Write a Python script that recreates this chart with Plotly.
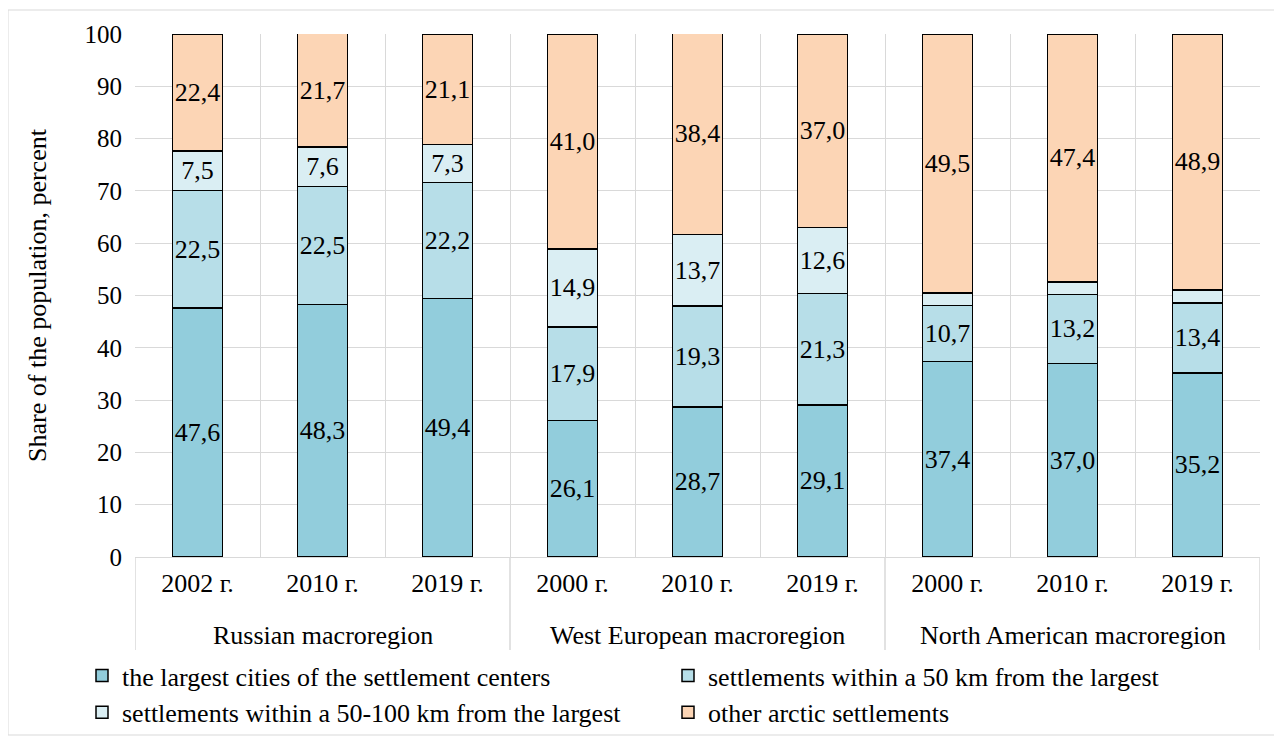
import plotly.graph_objects as go

group_names = ["Russian macroregion", "West European macroregion", "North American macroregion"]
years = ["2002 г.", "2010 г.", "2019 г.", "2000 г.", "2010 г.", "2019 г.", "2000 г.", "2010 г.", "2019 г."]

largest = [47.6, 48.3, 49.4, 26.1, 28.7, 29.1, 37.4, 37.0, 35.2]
within50 = [22.5, 22.5, 22.2, 17.9, 19.3, 21.3, 10.7, 13.2, 13.4]
within50_100 = [7.5, 7.6, 7.3, 14.9, 13.7, 12.6, 2.4, 2.4, 2.5]
other = [22.4, 21.7, 21.1, 41.0, 38.4, 37.0, 49.5, 47.4, 48.9]

series_names = [
    "the largest cities of the settlement centers",
    "settlements within a 50 km from the largest",
    "settlements within a 50-100 km from the largest",
    "other arctic settlements",
]
colors = ["#92CDDC", "#B7DEE8", "#DAEEF3", "#FCD5B5"]

FONT = "Liberation Serif"
GRID = "#D9D9D9"

idx = list(range(len(years)))
boundaries = [i - 0.5 for i in range(len(years) + 1)]

def lab(vals):
    return [("" if v < 5 else f"{v:.1f}".replace(".", ",")) for v in vals]

fig = go.Figure()
for name, vals, col in zip(series_names, [largest, within50, within50_100, other], colors):
    fig.add_trace(go.Bar(
        x=idx, y=vals, name=name, width=0.4,
        marker=dict(color=col, line=dict(color="black", width=1.5)),
        text=lab(vals), textposition="inside", insidetextanchor="middle",
        textangle=0, constraintext="none",
        textfont=dict(family=FONT, size=26, color="black"),
    ))

# Page has an 8px body margin; figure coordinates are offset accordingly.
W, H = 1274, 736
L, R, T, B = 127, 22, 26, 187
PW, PH = W - L - R, H - T - B

fig.update_layout(
    barmode="stack",
    width=W, height=H,
    margin=dict(l=L, r=R, t=T, b=B, autoexpand=False),
    paper_bgcolor="white", plot_bgcolor="white",
    font=dict(family=FONT, size=26, color="black"),
    legend=dict(orientation="h", x=(74 - L) / PW, xanchor="left", y=-(644 - 549) / PH, yanchor="top",
                entrywidth=541, entrywidthmode="pixels", font=dict(size=26, family=FONT),
                traceorder="normal", itemwidth=30, bgcolor="rgba(0,0,0,0)"),
    showlegend=True,
)
fig.update_xaxes(
    range=[-0.5, len(years) - 0.5], tickvals=idx, ticktext=years, showgrid=False,
    showline=True, linecolor=GRID, ticks="", zeroline=False,
    tickfont=dict(family=FONT, size=26), ticklabelstandoff=3,
    minor=dict(tickvals=boundaries, showgrid=True, gridcolor=GRID, ticks=""),
)
fig.update_yaxes(
    range=[0, 100], dtick=10, showgrid=True, gridcolor=GRID,
    tickfont=dict(family=FONT, size=25), ticklabelstandoff=12,
    title=dict(text="Share of the population, percent", font=dict(family=FONT, size=26), standoff=30),
    zeroline=False,
)

# group labels and dividers
div_bottom = -(650 - 557) / PH
for g, name in enumerate(group_names):
    fig.add_annotation(x=3 * g + 1, xref="x", y=-(635 - 557) / PH, yref="paper",
                       text=name, showarrow=False, yanchor="middle",
                       font=dict(family=FONT, size=26, color="black"))
for g in range(len(group_names) + 1):
    fig.add_shape(type="line", xref="x", yref="paper", x0=3 * g - 0.5, x1=3 * g - 0.5,
                  y0=div_bottom, y1=0, line=dict(color=GRID, width=1.5))

# outer chart border
fig.add_shape(type="rect", xref="paper", yref="paper",
              x0=(0 - L) / PW, x1=(1267 - L) / PW,
              y0=(T + PH - 727) / PH, y1=(T + PH - 2) / PH,
              line=dict(color=GRID, width=1), layer="below")

fig.write_html("out.html")
